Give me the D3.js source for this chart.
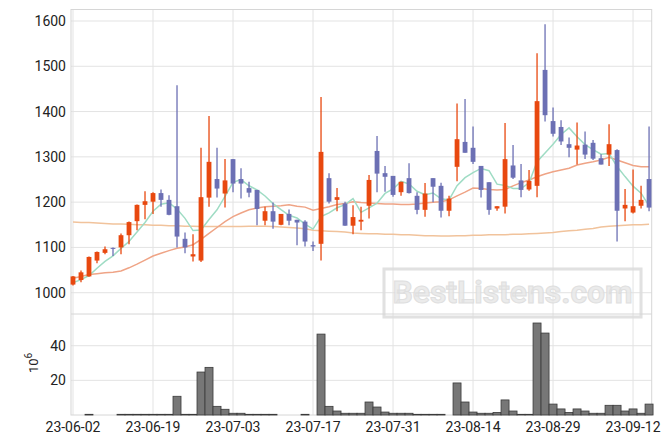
<!DOCTYPE html>
<html><head><meta charset="utf-8">
<script src="https://cdn.jsdelivr.net/npm/d3@7"></script>
<style>body{margin:0;background:#fff}svg{display:block}text{font-family:Roboto,"DejaVu Sans",sans-serif}</style>
</head><body><svg id="c" width="671" height="444"></svg>
<script>
const dates = ["23-06-02","23-06-05","23-06-07","23-06-08","23-06-09","23-06-12","23-06-13","23-06-14","23-06-15","23-06-16",
"23-06-19","23-06-20","23-06-21","23-06-22","23-06-23","23-06-26","23-06-27","23-06-28","23-06-29","23-06-30",
"23-07-03","23-07-04","23-07-05","23-07-06","23-07-07","23-07-10","23-07-11","23-07-12","23-07-13","23-07-14",
"23-07-17","23-07-18","23-07-19","23-07-20","23-07-21","23-07-24","23-07-25","23-07-26","23-07-27","23-07-28",
"23-07-31","23-08-01","23-08-02","23-08-03","23-08-04","23-08-07","23-08-08","23-08-09","23-08-10","23-08-11",
"23-08-14","23-08-16","23-08-17","23-08-18","23-08-21","23-08-22","23-08-23","23-08-24","23-08-25","23-08-28",
"23-08-29","23-08-30","23-08-31","23-09-01","23-09-04","23-09-05","23-09-06","23-09-07","23-09-08","23-09-11",
"23-09-12","23-09-13","23-09-14"];
const open = [1018,1028,1036,1071,1088,1099,1100,1127,1158,1194,1201,1220,1205,1191,1119,1080,1071,1210,1251,1219,
1295,1251,1231,1227,1159,1180,1150,1174,1161,1157,1105,1108,1253,1205,1197,1148,1157,1192,1313,1264,
1258,1222,1253,1214,1183,1253,1236,1181,1278,1333,1320,1280,1244,1186,1190,1281,1248,1228,1236,1492,
1379,1366,1328,1316,1327,1331,1297,1305,1315,1186,1177,1192,1251];
const high = [1037,1049,1080,1091,1102,1100,1131,1157,1195,1224,1222,1228,1215,1458,1133,1129,1320,1390,1320,1295,
1295,1275,1245,1227,1190,1199,1174,1184,1161,1160,1113,1432,1264,1231,1201,1193,1190,1260,1346,1280,
1258,1245,1286,1222,1242,1253,1243,1214,1418,1428,1367,1280,1244,1191,1375,1326,1284,1271,1529,1593,
1409,1381,1343,1376,1356,1337,1306,1372,1317,1229,1272,1236,1367];
const low = [1016,1023,1035,1065,1085,1081,1085,1107,1138,1162,1174,1190,1171,1100,1087,1069,1068,1190,1210,1188,
1222,1208,1211,1149,1149,1141,1149,1149,1105,1102,1092,1071,1197,1180,1148,1129,1138,1164,1222,1223,
1212,1214,1219,1173,1168,1200,1166,1169,1246,1309,1284,1210,1172,1181,1175,1251,1211,1225,1211,1378,
1345,1326,1299,1283,1295,1293,1283,1280,1113,1158,1175,1186,1180];
const close = [1036,1045,1079,1090,1096,1097,1127,1156,1194,1202,1220,1205,1172,1124,1100,1085,1211,1289,1230,1248,
1241,1241,1221,1185,1180,1157,1174,1159,1155,1113,1102,1311,1201,1211,1148,1167,1161,1249,1263,1256,
1216,1245,1220,1183,1219,1234,1181,1208,1339,1309,1289,1227,1183,1191,1295,1254,1227,1247,1423,1392,
1351,1334,1320,1325,1305,1296,1283,1328,1181,1194,1191,1205,1188];
const volume = [0,0,0.4,0,0,0,0.4,0.4,0.4,0.4,0.4,0.4,0.4,10.8,0.4,0.4,24.8,27.5,5.0,3.3,
1.0,1.0,0.4,0.4,0.4,0.4,0,0,0,0.4,0,46.7,5.0,2.3,1.0,1.0,1.0,7.5,4.6,1.7,
1.0,1.0,1.0,0.4,0.4,0.4,0.4,0,18.5,7.5,1.7,1.0,1.0,1.5,8.7,2.3,0.4,0.4,53.1,47.3,
6.3,3.5,1.5,3.5,2.3,1.0,1.0,5.6,5.6,2.3,3.5,1.0,6.3];
const ma5 = [1022,1029,1038,1054,1069.2,1081.4,1097.8,1113.2,1134,1155.2,1179.8,1195.4,1198.6,1184.6,1164.2,1137.2,1138.4,1161.8,1183,1212.6,
1243.8,1249.8,1236.2,1227.2,1213.6,1196.8,1183.4,1171,1165,1151.6,1140.6,1168,1176.4,1187.6,1194.6,1207.6,1177.6,1187.2,1197.6,1219.2,
1229,1245.8,1240,1224,1216.6,1220.2,1207.4,1205,1236.2,1254.2,1265.2,1274.4,1269.4,1239.8,1237,1230,1230,1242.8,1289.2,1308.6,
1328,1349.4,1364,1344.4,1327,1316,1305.8,1307.4,1278.6,1256.4,1235.4,1219.8,1191.8];
const ma20 = [1032,1036,1040,1042,1044,1045,1048,1055,1063,1072,1081,1087,1093,1098,1101,1106,1118,1131,1144,1157,
1168,1176,1183,1187,1190,1191,1192,1194,1191,1189,1182,1186,1190,1195,1197,1201,1199,1198,1197,1196,
1196,1195,1195,1196,1198,1200,1201,1205,1214,1222,1231,1230,1228,1227,1228,1236,1243,1249,1256,1262,
1267,1271,1275,1282,1286,1289,1293,1299,1293,1287,1281,1278,1278];
const ma60 = [1156,1155,1155,1154,1153,1152,1152,1151,1150,1150,1149,1149,1148,1148,1147,1147,1146,1146,1146,1146,
1146,1146,1147,1147,1147,1146,1145,1144,1143,1141,1138,1137,1136,1135,1134,1132,1131,1130,1130,1129,
1129,1128,1128,1127,1126,1126,1125,1125,1126,1126,1127,1127,1128,1128,1128,1129,1129,1130,1131,1132,
1133,1135,1137,1138,1140,1142,1145,1147,1148,1149,1150,1150,1151];
const priceTicks = [1000,1100,1200,1300,1400,1500,1600];
const volTicks = [20,40];
const xTickIdx = [0,10,20,30,40,50,60,70];

const svg = d3.select("#c");
const L = 71, R = 651.7, T = 9.5, MID = 314, B = 415;
const x = d3.scaleLinear().domain([-0.25, 72.33]).range([L, R]);
const y = d3.scaleLinear().domain([953, 1625.4]).range([MID, T]);
const yv = d3.scaleLinear().domain([0, 58.3]).range([B, MID]);
const gridC = "#e3e3e3";
const UP = "#e8480f", DN = "#6c70b4";

// grids
const g = svg.append("g");
g.selectAll(".vg").data(xTickIdx).join("line")
  .attr("x1", d => x(d)).attr("x2", d => x(d)).attr("y1", T).attr("y2", B)
  .attr("stroke", gridC).attr("stroke-width", 1);
g.selectAll(".hg").data(priceTicks).join("line")
  .attr("x1", L).attr("x2", R).attr("y1", d => y(d)).attr("y2", d => y(d))
  .attr("stroke", gridC);
g.selectAll(".hv").data(volTicks).join("line")
  .attr("x1", L).attr("x2", R).attr("y1", d => yv(d)).attr("y2", d => yv(d))
  .attr("stroke", gridC);

// watermark
const wm = svg.append("g").attr("opacity", 0.9);
wm.append("rect").attr("x", 384).attr("y", 269).attr("width", 257).attr("height", 48)
  .attr("fill", "none").attr("stroke", "#dedede").attr("stroke-width", 3);
wm.append("text").attr("x", 512.5).attr("y", 303).attr("text-anchor", "middle")
  .attr("font-family", "Liberation Sans, Arial, sans-serif").attr("font-weight", "bold")
  .attr("font-size", 31).attr("textLength", 240).attr("lengthAdjust", "spacingAndGlyphs")
  .attr("fill", "#e9e9e9").attr("stroke", "#dcdcdc").attr("stroke-width", 1)
  .text("BestListens.com");

// frame
svg.append("rect").attr("x", L).attr("y", T).attr("width", R - L).attr("height", B - T)
  .attr("fill", "none").attr("stroke", "#d6d6d6");
svg.append("line").attr("x1", L).attr("x2", R).attr("y1", MID).attr("y2", MID).attr("stroke", "#d6d6d6");

// MA lines
const clip = svg.append("clipPath").attr("id", "pc").append("rect")
  .attr("x", L).attr("y", T).attr("width", R - L).attr("height", MID - T);
const line = d3.line().x((d, i) => x(i)).y(d => y(d));
const mg = svg.append("g").attr("clip-path", "url(#pc)");
mg.append("path").attr("d", line(ma60)).attr("fill", "none").attr("stroke", "#f1c39c").attr("stroke-width", 1.5);
mg.append("path").attr("d", line(ma20)).attr("fill", "none").attr("stroke", "#efa486").attr("stroke-width", 1.5);
mg.append("path").attr("d", line(ma5)).attr("fill", "none").attr("stroke", "#9fdcc4").attr("stroke-width", 1.5);

// candles
const idx = d3.range(close.length);
const cg = svg.append("g");
const bw = (x(1) - x(0)) * 0.6;
cg.selectAll(".w").data(idx).join("line")
  .attr("x1", i => x(i)).attr("x2", i => x(i))
  .attr("y1", i => y(high[i])).attr("y2", i => y(low[i]))
  .attr("stroke", i => close[i] >= open[i] ? UP : DN).attr("stroke-width", 1.3);
cg.selectAll(".b").data(idx).join("rect")
  .attr("x", i => x(i) - bw / 2).attr("width", bw)
  .attr("y", i => y(Math.max(open[i], close[i])))
  .attr("height", i => Math.max(1, Math.abs(y(open[i]) - y(close[i]))))
  .attr("fill", i => close[i] >= open[i] ? UP : DN);

// volume
const vw = x(1) - x(0);
svg.append("g").selectAll("rect").data(idx.filter(i => volume[i] > 0)).join("rect")
  .attr("x", i => x(i) - vw / 2).attr("width", vw)
  .attr("y", i => yv(volume[i])).attr("height", i => yv(0) - yv(volume[i]))
  .attr("fill", "#777").attr("stroke", "#3a3a3a").attr("stroke-width", 0.8);

// axes labels
const fs = 14;
svg.append("g").selectAll("text").data(priceTicks).join("text")
  .attr("x", 66).attr("y", d => y(d)).attr("dy", "0.36em").attr("text-anchor", "end")
  .attr("font-size", fs).attr("fill", "#222").text(d => d);
svg.append("g").selectAll("text").data(volTicks).join("text")
  .attr("x", 66).attr("y", d => yv(d)).attr("dy", "0.36em").attr("text-anchor", "end")
  .attr("font-size", fs).attr("fill", "#222").text(d => d);
svg.append("g").selectAll("text").data(xTickIdx).join("text")
  .attr("x", i => x(i)).attr("y", 432).attr("text-anchor", "middle")
  .attr("font-size", fs).attr("fill", "#222").text(i => dates[i]);
const ul = svg.append("text").attr("transform", "translate(38,373) rotate(-90)")
  .attr("font-size", 13).attr("fill", "#222");
ul.append("tspan").text("10");
ul.append("tspan").attr("dy", -6).attr("font-size", 10).text("6");
</script></body></html>
